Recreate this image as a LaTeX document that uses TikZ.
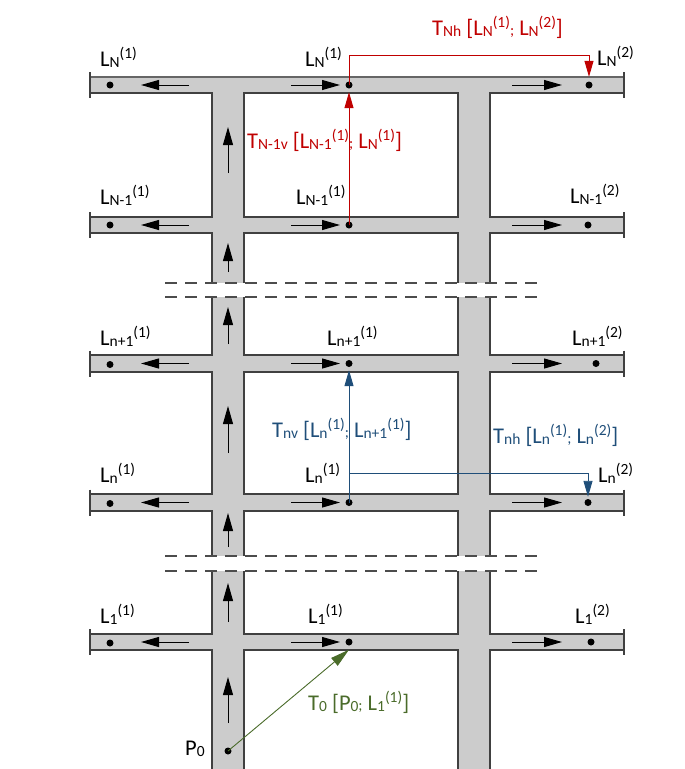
\documentclass[tikz,border=0pt]{standalone}
\usepackage{fontspec}
\setmainfont{Carlito}
\usetikzlibrary{arrows.meta}
\definecolor{roadgray}{HTML}{CCCCCC}
\definecolor{edgegray}{HTML}{404040}
\definecolor{myred}{HTML}{C00000}
\definecolor{myblue}{HTML}{1F4E79}
\definecolor{mygreen}{HTML}{4A6B2A}
\newcommand\lo[1]{\raisebox{-0.06em}{\fontsize{15.5}{16}\selectfont #1}}
\newcommand\hi[1]{\raisebox{0.33em}{\fontsize{15.5}{16}\selectfont #1}}
\newcommand\sm{{\fontsize{15.5}{16}\selectfont;}}
\newcommand\Lab[2]{L\lo{#1}\hi{(#2)}}
\begin{document}
\begin{tikzpicture}[x=1pt,y=-1pt,
  edge/.style={draw=edgegray,line width=1.3pt},
  topedge/.style={draw=black!60,line width=2pt},
  dashline/.style={draw=black!70,line width=1.2pt,dash pattern=on 12pt off 8pt},
  roadarrow/.style={draw=black,line width=1pt,-{Triangle[length=18pt,width=10pt]}},
  dot/.style={circle,fill=black,inner sep=0pt,minimum size=7pt},
  lbl/.style={font=\fontsize{22.5}{26}\selectfont,inner sep=0pt,anchor=base west},
  redline/.style={draw=myred,line width=1pt},
  blueline/.style={draw=myblue,line width=0.9pt},
  greenline/.style={draw=mygreen,line width=0.9pt}]
\useasboundingbox (0,0) rectangle (685,769);
% road fills
\foreach \c in {85,225,363.5,502.5,642}
  \fill[roadgray] (90,{\c-8}) rectangle (624,{\c+8});
\foreach \xa/\xb in {212/244,458/490}{
  \fill[roadgray] (\xa,85) rectangle (\xb,283);
  \fill[roadgray] (\xa,297) rectangle (\xb,556);
  \fill[roadgray] (\xa,571) rectangle (\xb,769);
}
% top edge and end bars
\draw[topedge] (90,77) -- (624,77);
\foreach \c in {85,225,363.5,502.5,642}{
  \draw[edge] (90,{\c-13}) -- (90,{\c+13});
  \draw[edge] (624,{\c-13}) -- (624,{\c+13});
}
% band A (93-217)
\draw[edge] (90,93) -- (212,93) -- (212,217) -- (90,217);
\draw[edge] (244,93) rectangle (458,217);
\draw[edge] (624,93) -- (490,93) -- (490,217) -- (624,217);
% band B (233-283)
\draw[edge] (90,233) -- (212,233) -- (212,283);
\draw[edge] (244,283) -- (244,233) -- (458,233) -- (458,283);
\draw[edge] (624,233) -- (490,233) -- (490,283);
% band C (297-355)
\draw[edge] (212,297) -- (212,355) -- (90,355);
\draw[edge] (244,297) -- (244,355) -- (458,355) -- (458,297);
\draw[edge] (490,297) -- (490,355) -- (624,355);
% band D (372-494)
\draw[edge] (90,372) -- (212,372) -- (212,494) -- (90,494);
\draw[edge] (244,372) rectangle (458,494);
\draw[edge] (624,372) -- (490,372) -- (490,494) -- (624,494);
% band E (511-556)
\draw[edge] (90,511) -- (212,511) -- (212,556);
\draw[edge] (244,556) -- (244,511) -- (458,511) -- (458,556);
\draw[edge] (624,511) -- (490,511) -- (490,556);
% band F (571-634)
\draw[edge] (212,571) -- (212,634) -- (90,634);
\draw[edge] (244,571) -- (244,634) -- (458,634) -- (458,571);
\draw[edge] (490,571) -- (490,634) -- (624,634);
% band G (650-769)
\draw[edge] (90,650) -- (212,650) -- (212,769);
\draw[edge] (244,769) -- (244,650) -- (458,650) -- (458,769);
\draw[edge] (624,650) -- (490,650) -- (490,769);
% dashed cuts
\draw[dashline] (165,283) -- (537,283);
\draw[dashline] (165,297) -- (537,297);
\draw[dashline] (165,556) -- (537,556);
\draw[dashline] (165,571) -- (537,571);
% vertical direction arrows
\foreach \ya/\yb in {173/127,272/243,344/307,453/406,547/513,622/583,723/677}
  \draw[roadarrow] (228,\ya) -- (228,\yb);
% horizontal direction arrows
\foreach \c in {85,225,363.5,502.5,642}{
  \draw[roadarrow] (189,\c) -- (141,\c);
  \draw[roadarrow] (291,\c) -- (340,\c);
  \draw[roadarrow] (512,\c) -- (562,\c);
}
% dots
\node[dot] (LNa) at (110,85) {};
\node[dot] (LNb) at (349,85) {};
\node[dot] (LNc) at (589,85) {};
\node[dot] (LMa) at (110,225) {};
\node[dot] (LMb) at (349,225) {};
\node[dot] (LMc) at (588,225) {};
\node[dot] (LPa) at (110,364.5) {};
\node[dot] (LPb) at (349,363.5) {};
\node[dot] (LPc) at (596,363.5) {};
\node[dot] (Lna) at (110,503.5) {};
\node[dot] (Lnb) at (349,502.5) {};
\node[dot] (Lnc) at (588,502.5) {};
\node[dot] (L1a) at (110,643) {};
\node[dot] (L1b) at (349,642) {};
\node[dot] (L1c) at (591,642) {};
\node[dot] (P0) at (228,751) {};
% labels
\node[lbl] (tNa) at (100,66) {\Lab{N}{1}};
\node[lbl] (tNb) at (305,66) {\Lab{N}{1}};
\node[lbl] (tNc) at (597,65) {\Lab{N}{2}};
\node[lbl] (tMa) at (100,204) {\Lab{N-1}{1}};
\node[lbl] (tMb) at (296,204) {\Lab{N-1}{1}};
\node[lbl] (tMc) at (570,203) {\Lab{N-1}{2}};
\node[lbl] (tPa) at (100,345) {\Lab{n+1}{1}};
\node[lbl] (tPb) at (327,345) {\Lab{n+1}{1}};
\node[lbl] (tPc) at (572,345) {\Lab{n+1}{2}};
\node[lbl] (tna) at (100,482) {\Lab{n}{1}};
\node[lbl] (tnb) at (305,482) {\Lab{n}{1}};
\node[lbl] (tnc) at (598,482) {\Lab{n}{2}};
\node[lbl] (t1a) at (100,623) {\Lab{1}{1}};
\node[lbl] (t1b) at (308,623) {\Lab{1}{1}};
\node[lbl] (t1c) at (575,623) {\Lab{1}{2}};
\node[lbl] (tP0) at (185,755) {P\lo{0}};
% transition labels
\node[lbl,text=myred] (TNh) at (432,35) {T\lo{Nh} [\Lab{N}{1}\sm{} \Lab{N}{2}]};
\node[lbl,text=myred] (TMv) at (247,148) {T\lo{N-1v} [\Lab{N-1}{1}\sm{} \Lab{N}{1}]};
\node[lbl,text=myblue] (Tnv) at (272,437) {T\lo{nv} [\Lab{n}{1}\sm{} \Lab{n+1}{1}]};
\node[lbl,text=myblue] (Tnh) at (493,443) {T\lo{nh} [\Lab{n}{1}\sm{} \Lab{n}{2}]};
\node[lbl,text=mygreen] (T0) at (308,710) {T\lo{0} [P\lo{0}\sm{} \Lab{1}{1}]};
% transitions
\coordinate (rc) at (349,55);
\draw[redline,shorten >=3.5pt,-{Triangle[length=16pt,width=9pt]}] (LMb.center) -- (LNb);
\draw[redline,shorten >=4.5pt,-{Triangle[length=16pt,width=9pt]}] (LNb.center) -- (rc) -| (LNc);
\coordinate (bc) at (349,473);
\draw[blueline,shorten >=3pt,-{Triangle[length=16pt,width=9pt]}] (Lnb.center) -- (LPb);
\draw[blueline,shorten >=2pt,-{Triangle[length=16pt,width=9pt]}] (bc) -| (Lnc);
\draw[greenline,-{Triangle[length=19pt,width=10pt]}] (P0.center) -- ([yshift=-4pt]L1b.south);
\end{tikzpicture}
\end{document}
